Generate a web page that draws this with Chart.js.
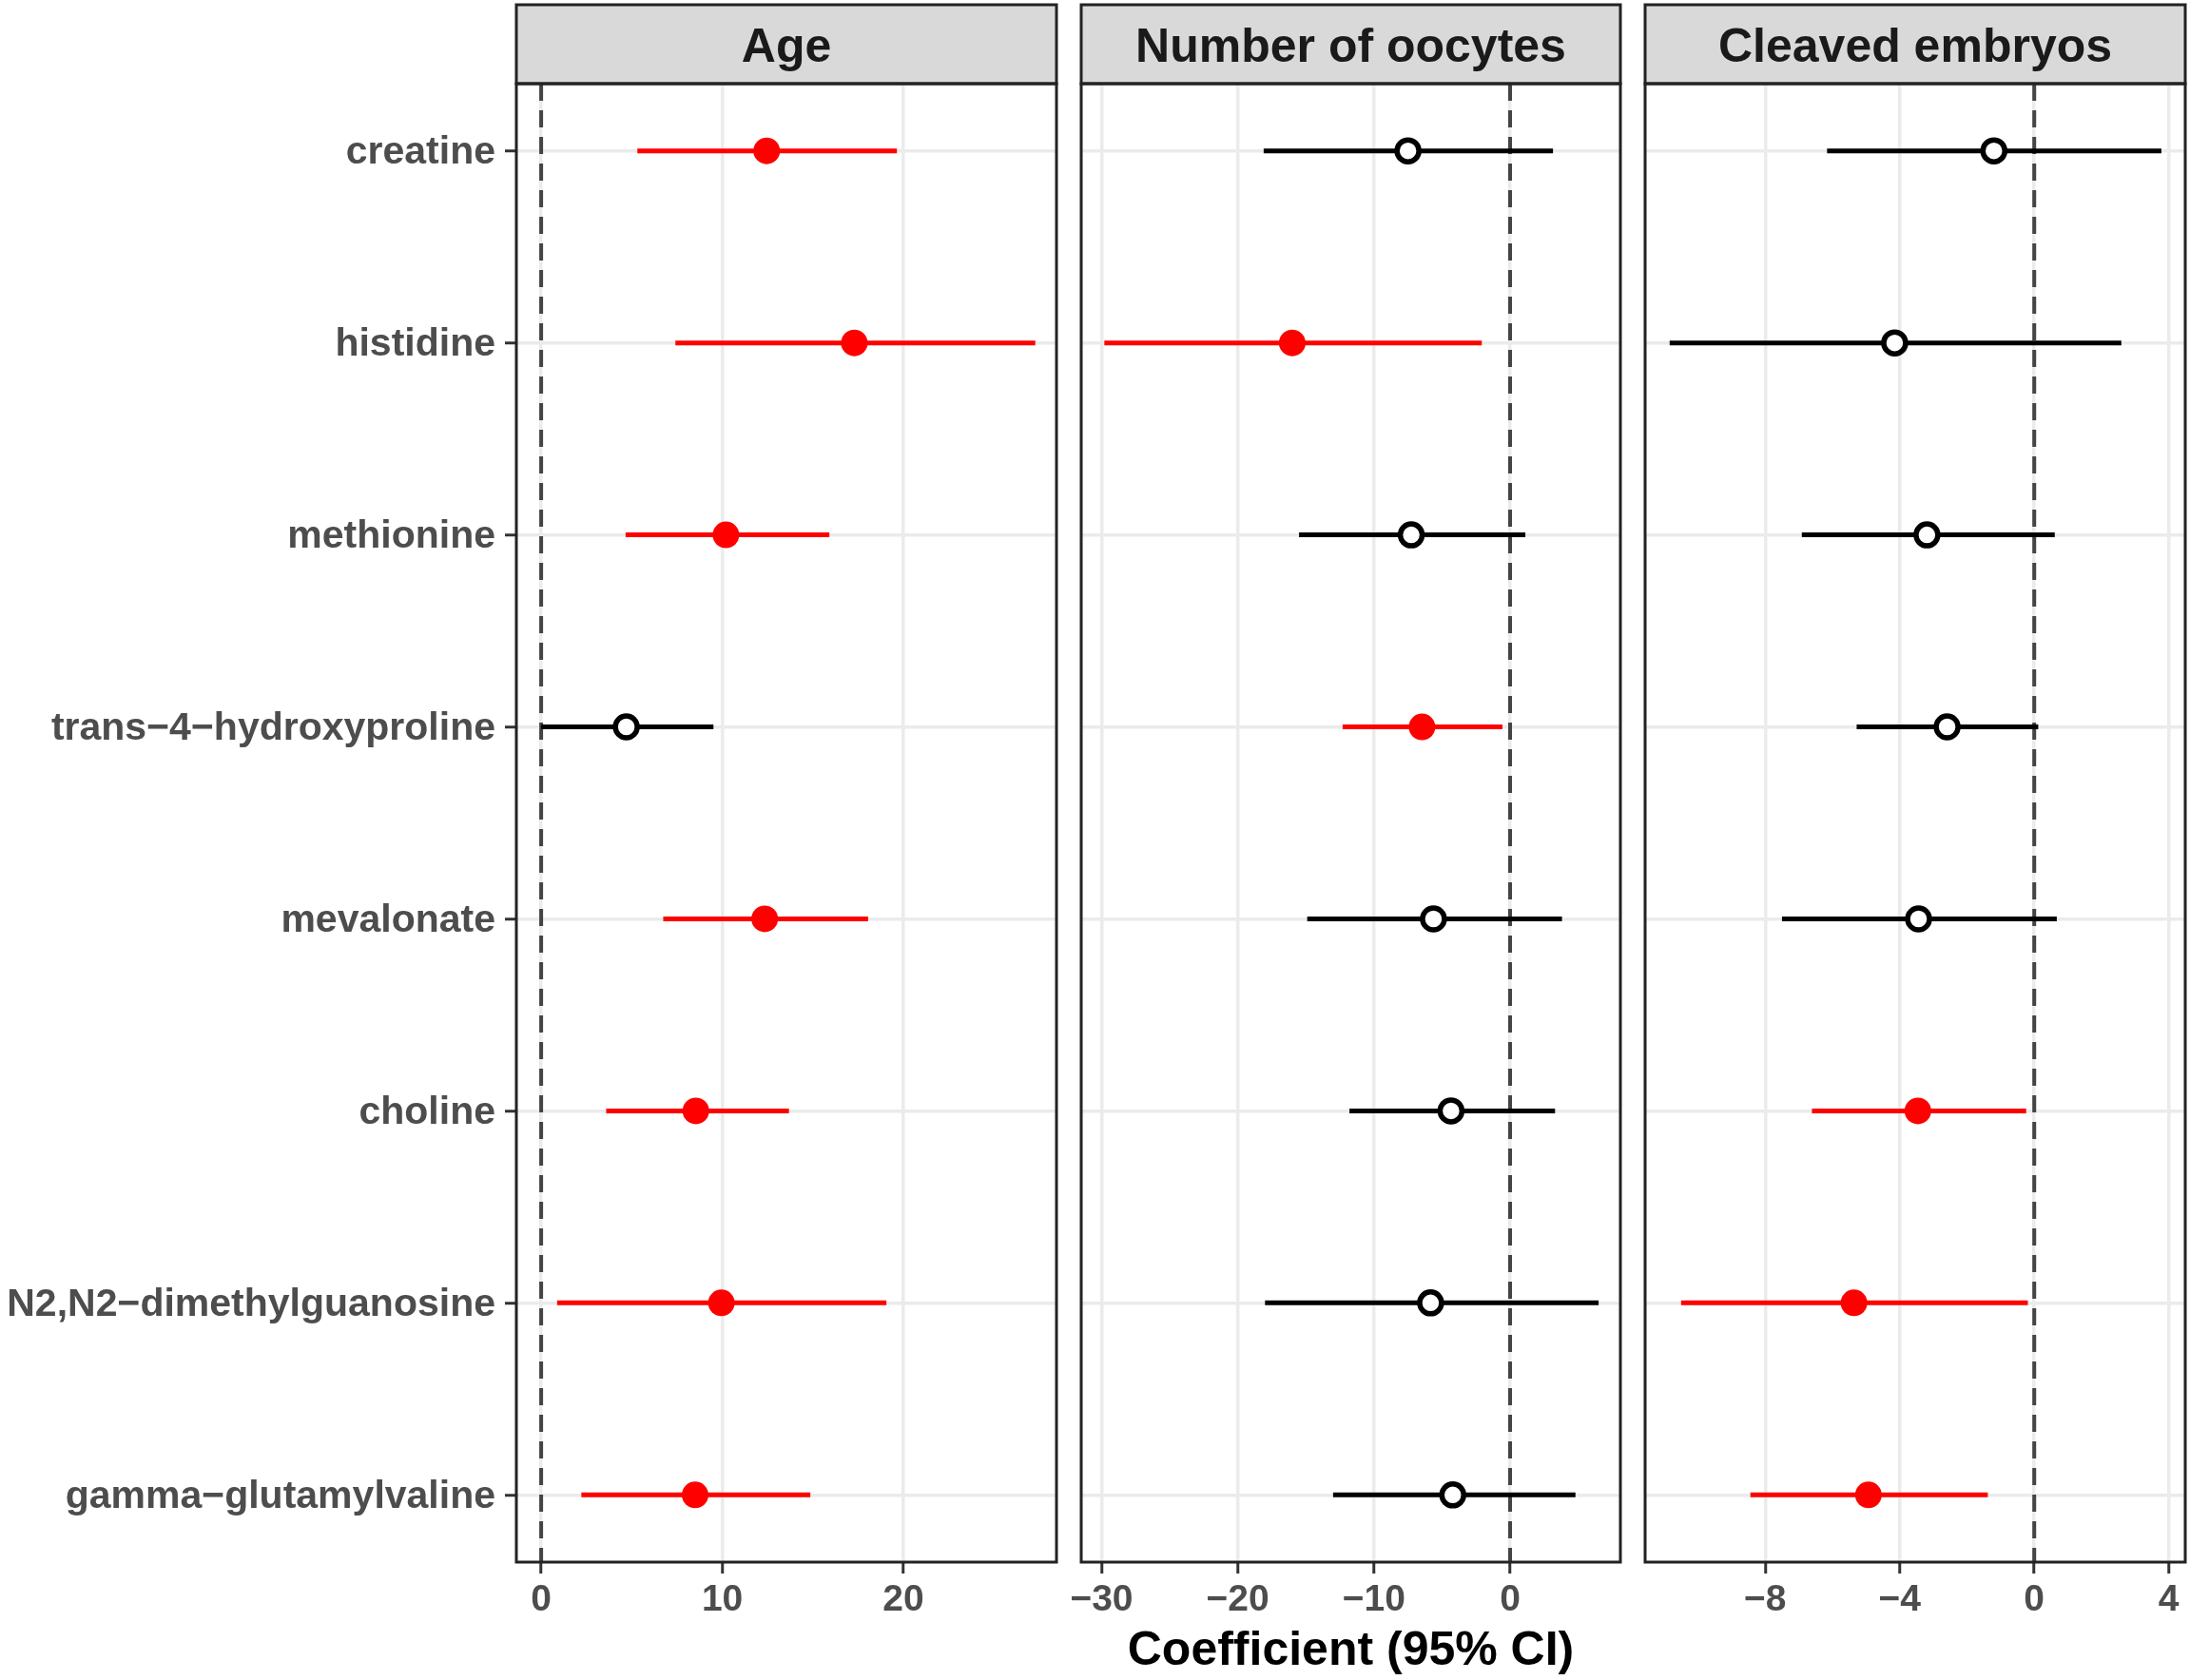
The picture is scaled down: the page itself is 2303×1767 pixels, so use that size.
<!DOCTYPE html>
<html>
<head>
<meta charset="utf-8">
<title>Coefficient forest plot</title>
<script src="https://cdn.jsdelivr.net/npm/chart.js@4.4.1/dist/chart.umd.min.js"></script>
<style>
  html, body { margin: 0; padding: 0; background: #ffffff; }
  #wrap { position: relative; width: 2303px; height: 1767px; }
  canvas { position: absolute; left: 0; top: 0; }
</style>
</head>
<body>
<div id="wrap">
  <canvas id="agePanel" width="2303" height="1767"></canvas>
  <canvas id="oocytePanel" width="2303" height="1767"></canvas>
  <canvas id="cleavedPanel" width="2303" height="1767"></canvas>
</div>
<script>
// Metabolites, top to bottom
const metabolites = ['creatine', 'histidine', 'methionine', 'trans\u22124\u2212hydroxyproline',
  'mevalonate', 'choline', 'N2,N2\u2212dimethylguanosine', 'gamma\u2212glutamylvaline'];

// Age
const ageEst = [12.45, 17.29, 10.2, 4.70, 12.34, 8.54, 9.95, 8.50];
const ageLow = [5.31, 7.41, 4.66, 0.0, 6.74, 3.59, 0.88, 2.22];
const ageHigh = [19.64, 27.28, 15.91, 9.51, 18.05, 13.68, 19.06, 14.86];
const ageSig = [1, 1, 1, 0, 1, 1, 1, 1];
const ageTicks = [0, 10, 20];

// Number of oocytes
const oocyteEst = [-7.5, -16.0, -7.26, -6.47, -5.63, -4.34, -5.84, -4.21];
const oocyteLow = [-18.1, -29.8, -15.5, -12.3, -14.9, -11.8, -18.0, -13.0];
const oocyteHigh = [3.15, -2.08, 1.12, -0.56, 3.81, 3.30, 6.5, 4.8];
const oocyteSig = [0, 1, 0, 1, 0, 0, 0, 0];
const oocyteTicks = [-30, -20, -10, 0];

// Cleaved embryos
const cleavedEst = [-1.20, -4.15, -3.19, -2.59, -3.44, -3.46, -5.36, -4.93];
const cleavedLow = [-6.16, -10.84, -6.91, -5.28, -7.50, -6.61, -10.50, -8.44];
const cleavedHigh = [3.78, 2.59, 0.61, 0.12, 0.67, -0.24, -0.19, -1.38];
const cleavedSig = [0, 0, 0, 0, 0, 1, 1, 1];
const cleavedTicks = [-8, -4, 0, 4];

const FONT = '"Liberation Sans", Arial, Helvetica, sans-serif';
const RED = '#ff0000';
const W = 2303;

// grey strip with facet title + black frame round the panel
const panelStrip = {
  id: 'panelStrip',
  afterDraw(chart, args, opts) {
    const { ctx, chartArea: a } = chart;
    const stripTop = 5;
    ctx.save();
    ctx.fillStyle = '#d9d9d9';
    ctx.fillRect(a.left, stripTop, a.right - a.left, a.top - stripTop);
    ctx.strokeStyle = '#222222';
    ctx.lineWidth = 3;
    ctx.strokeRect(a.left, stripTop, a.right - a.left, a.top - stripTop);
    ctx.strokeRect(a.left, a.top, a.right - a.left, a.bottom - a.top);
    ctx.fillStyle = '#1a1a1a';
    ctx.font = 'bold 50px ' + FONT;
    ctx.textAlign = 'center';
    ctx.textBaseline = 'middle';
    ctx.fillText(opts.text, (a.left + a.right) / 2, (stripTop + a.top) / 2 + 5);
    ctx.restore();
  }
};

function fmtTick(v) {
  return v < 0 ? '\u2212' + Math.abs(v) : String(v);
}

function buildPanel(id, cfg) {
  const datasets = [];

  // dashed reference line at zero
  datasets.push({
    data: [{ x: 0, y: -0.35 }, { x: 0, y: 7.35 }],
    showLine: true,
    borderColor: '#444444',
    borderWidth: 4,
    borderDash: [18, 10],
    pointRadius: 0,
    order: 3
  });

  // confidence intervals
  cfg.low.forEach((lo, i) => {
    datasets.push({
      data: [{ x: lo, y: i }, { x: cfg.high[i], y: i }],
      showLine: true,
      borderColor: cfg.sig[i] ? RED : '#000000',
      borderWidth: 5,
      borderCapStyle: 'butt',
      pointRadius: 0,
      order: 2
    });
  });

  // estimates
  datasets.push({
    data: cfg.est.map((v, i) => ({ x: v, y: i })),
    pointRadius: cfg.sig.map(s => s ? 14 : 11.5),
    pointBorderWidth: cfg.sig.map(s => s ? 0 : 5.5),
    pointBackgroundColor: cfg.sig.map(s => s ? RED : '#ffffff'),
    pointBorderColor: cfg.sig.map(s => s ? RED : '#000000'),
    order: 1
  });

  new Chart(document.getElementById(id), {
    type: 'scatter',
    data: { datasets: datasets },
    options: {
      responsive: false,
      devicePixelRatio: 1,
      animation: false,
      events: [],
      layout: {
        autoPadding: false,
        padding: { left: cfg.showLabels ? 0 : cfg.left, right: W - cfg.right, top: 88, bottom: 0 }
      },
      plugins: {
        legend: { display: false },
        tooltip: { enabled: false },
        panelStrip: { text: cfg.title }
      },
      scales: {
        x: {
          type: 'linear',
          min: cfg.min,
          max: cfg.max,
          afterBuildTicks: s => { s.ticks = cfg.ticks.map(v => ({ value: v })); },
          afterFit: s => { s.height = 124; },
          grid: { color: '#ebebeb', lineWidth: 3.5, tickColor: '#333333', tickWidth: 3, tickLength: 12 },
          border: { display: false },
          ticks: {
            autoSkip: false,
            maxRotation: 0,
            padding: 5,
            color: '#4d4d4d',
            font: { family: FONT, size: 39, weight: 'bold' },
            callback: v => fmtTick(v)
          },
          title: {
            display: !!cfg.xTitle,
            text: cfg.xTitle || '',
            color: '#000000',
            font: { family: FONT, size: 50, weight: 'bold' },
            padding: { top: 0, bottom: 0 }
          }
        },
        y: {
          type: 'linear',
          min: -0.35,
          max: 7.35,
          reverse: true,
          afterBuildTicks: s => { s.ticks = metabolites.map((m, i) => ({ value: i })); },
          afterFit: s => { s.width = cfg.showLabels ? cfg.left : 0; },
          grid: {
            color: '#ebebeb', lineWidth: 3.5,
            drawTicks: cfg.showLabels, tickColor: '#333333', tickWidth: 3, tickLength: 12
          },
          border: { display: false },
          ticks: {
            display: cfg.showLabels,
            autoSkip: false,
            padding: 10,
            labelOffset: 2,
            color: '#4d4d4d',
            font: { family: FONT, size: 41, weight: 'bold' },
            callback: v => metabolites[v]
          }
        }
      }
    },
    plugins: [panelStrip]
  });
}

buildPanel('agePanel', {
  title: 'Age', est: ageEst, low: ageLow, high: ageHigh, sig: ageSig, ticks: ageTicks,
  min: -1.37, max: 28.45, left: 543, right: 1111, showLabels: true
});
buildPanel('oocytePanel', {
  title: 'Number of oocytes', est: oocyteEst, low: oocyteLow, high: oocyteHigh, sig: oocyteSig,
  ticks: oocyteTicks, min: -31.5, max: 8.1, left: 1137, right: 1704, showLabels: false,
  xTitle: 'Coefficient (95% CI)'
});
buildPanel('cleavedPanel', {
  title: 'Cleaved embryos', est: cleavedEst, low: cleavedLow, high: cleavedHigh, sig: cleavedSig,
  ticks: cleavedTicks, min: -11.57, max: 4.49, left: 1730, right: 2298, showLabels: false
});
</script>
</body>
</html>
